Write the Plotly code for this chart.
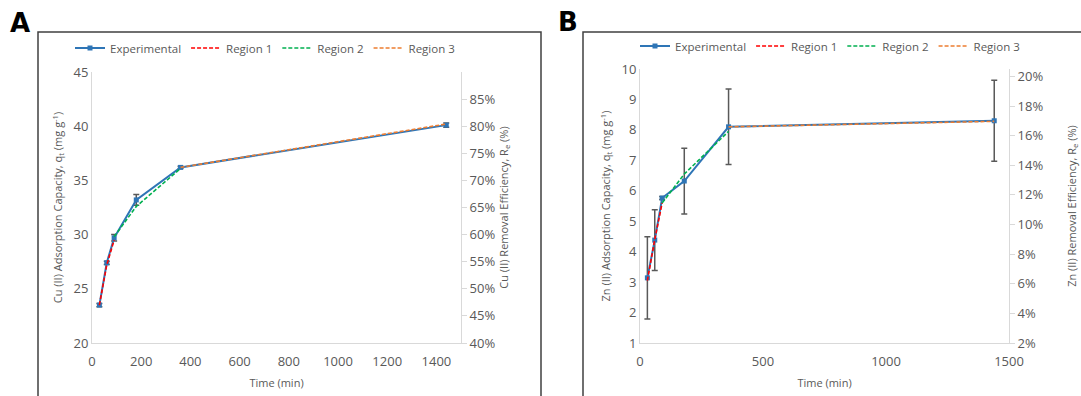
import plotly.graph_objects as go

# ---- Data: panel A (Cu) ----
time_a = [30, 60, 90, 180, 360, 1440]
cu_exp = [23.5, 27.4, 29.7, 33.2, 36.2, 40.1]
cu_err = [0.15, 0.15, 0.3, 0.5, 0.1, 0.2]
cu_r1_t = [30, 60, 90]
cu_r1 = [23.5, 27.2, 29.5]
cu_r2_t = [90, 180, 360]
cu_r2 = [29.8, 32.6, 36.1]
cu_r3_t = [360, 1440]
cu_r3 = [36.2, 40.2]

# ---- Data: panel B (Zn) ----
time_b = [30, 60, 90, 180, 360, 1440]
zn_exp = [3.14, 4.38, 5.76, 6.32, 8.1, 8.3]
zn_err = [1.35, 1.0, 0.05, 1.08, 1.24, 1.33]
zn_r1_t = [30, 60, 90]
zn_r1 = [3.05, 4.4, 5.6]
zn_r2_t = [90, 180, 360]
zn_r2 = [5.6, 6.55, 7.95]
zn_r3_t = [360, 1440]
zn_r3 = [8.1, 8.28]

xticks_a = [0, 200, 400, 600, 800, 1000, 1200, 1400]
xticks_b = [0, 500, 1000, 1500]

W, H = 1081, 396
BLUE = "#2E75B6"
RED = "#FF0000"
GREEN = "#00B050"
ORANGE = "#ED7D31"
GRAY = "#595959"
AXL = "#D9D9D9"
FONT = "Open Sans"

def px(x):
    return x / W

def py(y):
    return 1 - y / H

fig = go.Figure()

def add_panel(xa, ya, legend, t, exp, err, r1t, r1, r2t, r2, r3t, r3):
    fig.add_trace(go.Scatter(
        x=t, y=exp, name="Experimental", mode="lines+markers",
        line=dict(color=BLUE, width=2), marker=dict(symbol="square", size=5, color=BLUE),
        error_y=dict(type="data", array=err, color=GRAY, thickness=1.5, width=3),
        xaxis=xa, yaxis=ya, legend=legend))
    fig.add_trace(go.Scatter(
        x=r1t, y=r1, name="Region 1", mode="lines",
        line=dict(color=RED, width=1.6, dash="4px,2px"), xaxis=xa, yaxis=ya, legend=legend))
    fig.add_trace(go.Scatter(
        x=r2t, y=r2, name="Region 2", mode="lines",
        line=dict(color=GREEN, width=1.6, dash="4px,2px"), xaxis=xa, yaxis=ya, legend=legend))
    fig.add_trace(go.Scatter(
        x=r3t, y=r3, name="Region 3", mode="lines",
        line=dict(color=ORANGE, width=1.6, dash="4px,2px"), xaxis=xa, yaxis=ya, legend=legend))

add_panel("x", "y", "legend", time_a, cu_exp, cu_err, cu_r1_t, cu_r1, cu_r2_t, cu_r2, cu_r3_t, cu_r3)
add_panel("x2", "y3", "legend2", time_b, zn_exp, zn_err, zn_r1_t, zn_r1, zn_r2_t, zn_r2, zn_r3_t, zn_r3)

# invisible traces so the secondary axes render
fig.add_trace(go.Scatter(x=[None], y=[None], xaxis="x", yaxis="y2", showlegend=False, hoverinfo="skip"))
fig.add_trace(go.Scatter(x=[None], y=[None], xaxis="x2", yaxis="y4", showlegend=False, hoverinfo="skip"))

tickfont = dict(family=FONT, size=13, color=GRAY)
titlefont = dict(family=FONT, size=11, color=GRAY)

ya_dom = [py(343), py(72)]
yb_dom = [py(343), py(69)]

common = dict(showgrid=False, zeroline=False, showline=True, linecolor=AXL, linewidth=1,
              tickfont=tickfont, automargin=False)

legend_style = dict(orientation="h", xanchor="center", yanchor="middle",
                    font=dict(family=FONT, size=11.5, color=GRAY), bgcolor="rgba(0,0,0,0)",
                    itemwidth=30, tracegroupgap=0)

fig.update_layout(
    width=W, height=H, margin=dict(l=0, r=0, t=0, b=0, autoexpand=False),
    paper_bgcolor="white", plot_bgcolor="white",
    font=dict(family=FONT, color=GRAY),
    xaxis=dict(domain=[px(92), px(461)], anchor="y", range=[0, 1500], tickvals=xticks_a,
               ticks="", ticklabelstandoff=6,
               title=dict(text="Time (min)", font=titlefont, standoff=10), **common),
    yaxis=dict(domain=ya_dom, anchor="x", range=[20, 45], dtick=5, ticks="",
               title=dict(text="Cu (II) Adsorption Capacity, q<sub>t</sub> (mg g<sup>-1</sup>)",
                          font=titlefont, standoff=8), **common),
    yaxis2=dict(overlaying="y", side="right", anchor="x", range=[0.40, 0.90],
                tickvals=[0.40, 0.45, 0.50, 0.55, 0.60, 0.65, 0.70, 0.75, 0.80, 0.85],
                tickformat=".0%", ticks="outside", ticklen=5, tickcolor=AXL,
                title=dict(text="Cu (II) Removal Efficiency, R<sub>e</sub> (%)",
                           font=titlefont, standoff=5), **common),
    xaxis2=dict(domain=[px(640), px(1009)], anchor="y3", range=[0, 1500], tickvals=xticks_b,
                ticks="", ticklabelstandoff=6,
                title=dict(text="Time (min)", font=titlefont, standoff=10), **common),
    yaxis3=dict(domain=yb_dom, anchor="x2", range=[1, 10], dtick=1, ticks="",
                title=dict(text="Zn (II) Adsorption Capacity, q<sub>t</sub> (mg g<sup>-1</sup>)",
                           font=titlefont, standoff=8), **common),
    yaxis4=dict(overlaying="y3", side="right", anchor="x2", range=[0.02, 0.205],
                tickvals=[0.02, 0.04, 0.06, 0.08, 0.10, 0.12, 0.14, 0.16, 0.18, 0.20],
                tickformat=".0%", ticks="outside", ticklen=5, tickcolor=AXL,
                title=dict(text="Zn (II) Removal Efficiency, R<sub>e</sub> (%)",
                           font=titlefont, standoff=25), **common),
    legend=dict(x=px(265), y=py(48), **legend_style),
    legend2=dict(x=px(830), y=py(46), **legend_style),
    showlegend=True,
)

# panel frames
fig.add_shape(type="rect", xref="paper", yref="paper", x0=px(38), x1=px(541),
              y0=-0.1, y1=py(32), line=dict(color="#404040", width=1.5))
fig.add_shape(type="rect", xref="paper", yref="paper", x0=px(583), x1=1.05,
              y0=-0.1, y1=py(32), line=dict(color="#404040", width=1.5))

# panel letters
fig.add_annotation(text="<b>A</b>", xref="paper", yref="paper", x=px(8), y=py(6),
                   xanchor="left", yanchor="top", showarrow=False,
                   font=dict(family="DejaVu Sans", size=26, color="black"))
fig.add_annotation(text="<b>B</b>", xref="paper", yref="paper", x=px(556), y=py(5),
                   xanchor="left", yanchor="top", showarrow=False,
                   font=dict(family="DejaVu Sans", size=26, color="black"))

fig.write_html("out.html", config={"displayModeBar": False},
               post_script="document.body.style.margin='0';document.body.style.overflow='hidden';")
